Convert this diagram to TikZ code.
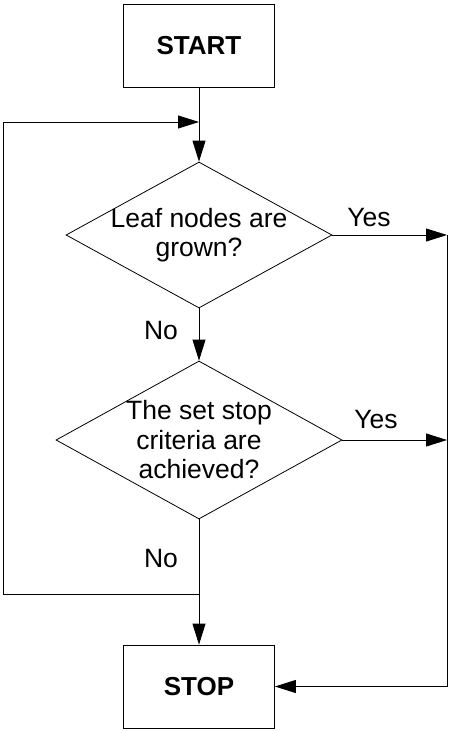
\documentclass[tikz,border=0pt]{standalone}
\usepackage{fontspec}
\setmainfont{Liberation Sans}
\usetikzlibrary{arrows.meta}
\usetikzlibrary{shapes.geometric}

\begin{document}
\begin{tikzpicture}[x=1pt,y=-1pt,line width=0.8pt]
	\tikzstyle{boite}=[rectangle,draw,minimum width=151pt,minimum height=83pt,font=\fontsize{26}{29.5}\selectfont\bfseries]
	\tikzstyle{losange}=[diamond,draw,aspect=1.82,inner sep=-12pt,align=center,font=\fontsize{26.5}{29.5}\selectfont]
	\tikzstyle{fleche}=[-{Triangle[length=21pt,width=13pt]}]
	\tikzstyle{etiq}=[font=\fontsize{26.5}{29.5}\selectfont]
	\useasboundingbox (0,0) rectangle (450,731);
	\node[boite] (start) at (199,45.5){START};
	\node[losange,minimum width=266pt,minimum height=146pt] (q1) at (199,235){Leaf nodes are\\grown?};
	\node[losange,minimum width=286pt,minimum height=158pt] (q2) at (199,440){The set stop\\criteria are\\achieved?};
	\node[boite] (stop) at (199,686.5){STOP};
	\coordinate (m) at (199,122);
	\coordinate (j) at (199,594);
	\coordinate (l) at (3,594);
	\coordinate (r1) at (447,235);
	\coordinate (r2) at (447,440);
	\draw[fleche] (start) -- (q1);
	\draw[fleche] (q1) -- (q2);
	\draw[fleche] (q2) -- (stop);
	\draw[fleche] (j) -- (l) |- (m);
	\draw[fleche] (q1.east) -- (r1);
	\draw[fleche] (q2.east) -- (r2);
	\draw[fleche] (r1) |- (stop.east);
	\node[etiq] (oui1) at (369,218){Yes};
	\node[etiq] (oui2) at (376,420){Yes};
	\node[etiq] (non1) at (161,331){No};
	\node[etiq] (non2) at (161,559){No};
\end{tikzpicture}
\end{document}
